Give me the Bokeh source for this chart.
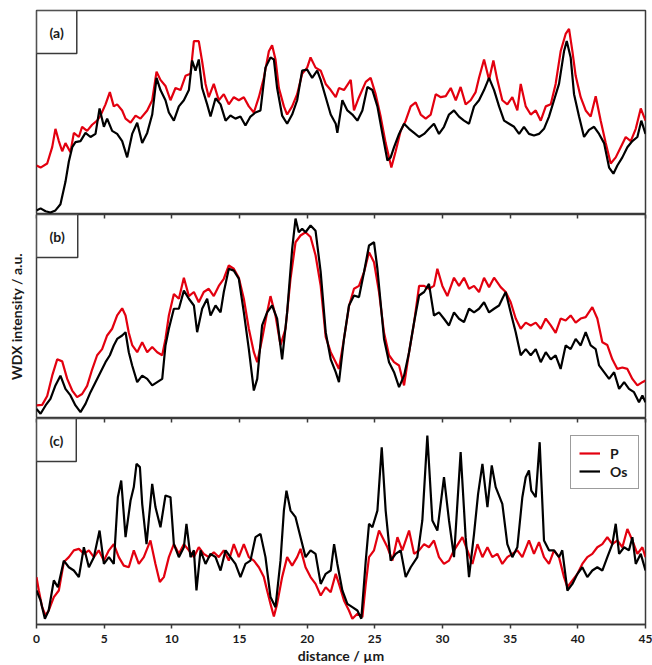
from bokeh.plotting import figure
from bokeh.layouts import column
from bokeh.models import Range1d, LinearAxis, FixedTicker, Label, Legend, LegendItem
from bokeh.embed import file_html
from bokeh.resources import INLINE

# ---------------- data ----------------
x_ticks = [0, 5, 10, 15, 20, 25, 30, 35, 40, 45]
panel_labels = ["(a)", "(b)", "(c)"]
series_names = ["P", "Os"]
x_label = "distance / µm"
y_label = "WDX intensity / a.u."

# panel (a): (distance µm, intensity a.u.)
a_p = [(0, 24), (0.3, 23), (0.79, 25), (1.16, 33), (1.4, 42), (1.65, 36), (1.9, 31), (2.14, 35), (2.51, 30.5), (2.76, 40),
       (3.13, 38), (3.37, 43), (3.74, 41), (4.11, 44), (4.48, 46), (4.73, 48.5), (5.1, 54), (5.42, 60), (5.71, 53), (5.96, 54),
       (6.33, 51), (6.58, 47), (6.95, 45), (7.32, 48.5), (7.68, 47), (8.18, 51), (8.55, 56), (8.87, 70), (9.16, 66), (9.53, 63),
       (9.9, 56), (10.27, 62), (10.64, 61), (11.01, 68), (11.38, 69), (11.63, 85), (11.99, 85), (12.24, 75), (12.49, 64), (12.73, 57.5),
       (13.1, 64), (13.47, 56), (13.84, 59), (14.21, 54), (14.58, 57.5), (14.95, 56), (15.32, 57.5), (15.69, 53), (16.06, 50), (16.43, 57.5),
       (16.8, 67), (17.17, 80), (17.41, 83), (17.66, 76), (17.91, 62), (18.28, 53), (18.52, 49), (18.89, 53), (19.26, 59), (19.63, 69),
       (20.0, 72), (20.25, 77), (20.62, 72), (21.0, 70.5), (21.37, 64), (21.74, 61), (22.11, 57.5), (22.35, 62), (22.72, 61), (23.22, 66),
       (23.46, 51), (23.83, 57.5), (24.33, 65), (24.69, 67), (25.06, 59), (25.43, 48), (25.8, 35), (26.05, 28), (26.22, 23), (26.54, 31),
       (26.91, 41), (27.28, 46), (27.65, 53), (28.02, 55), (28.39, 49), (28.76, 47), (29.13, 49), (29.5, 59), (29.87, 57.5), (30.24, 58),
       (30.61, 62), (30.98, 56), (31.34, 62.5), (31.71, 54), (32.08, 56), (32.45, 60), (32.7, 67), (33.07, 76), (33.44, 66), (33.76, 75.5),
       (34.05, 66), (34.42, 56), (34.79, 54), (35.16, 57.5), (35.53, 51), (35.78, 64), (36.15, 53), (36.52, 49), (36.89, 51), (37.26, 46),
       (37.63, 53), (38.0, 54), (38.36, 64), (38.73, 80), (39.1, 88.5), (39.35, 91), (39.6, 80), (39.84, 68), (40.21, 57.5), (40.58, 51),
       (40.95, 48), (41.32, 58), (41.69, 46), (42.06, 35), (42.43, 25), (42.8, 28), (43.17, 33), (43.54, 38), (43.91, 36), (44.28, 42),
       (44.65, 52), (45.0, 46)]
a_os = [(0, 2), (0.3, 3), (0.67, 1.6), (1.03, 1), (1.4, 2), (1.77, 5), (2.14, 16), (2.39, 26), (2.64, 33), (2.88, 35.5),
        (3.25, 36), (3.62, 40), (3.99, 38), (4.36, 39.5), (4.66, 52), (4.98, 43), (5.22, 47), (5.59, 41), (5.96, 39.5), (6.33, 36),
        (6.7, 28), (7.07, 39.5), (7.44, 45), (7.81, 35), (8.18, 40), (8.55, 49), (8.87, 67), (9.16, 61), (9.53, 56), (9.78, 50),
        (10.15, 46), (10.52, 53), (10.89, 56), (11.26, 61), (11.5, 75.5), (11.75, 70.5), (11.99, 76), (12.24, 62), (12.61, 54), (12.86, 48),
        (13.23, 57), (13.6, 54), (13.97, 46), (14.33, 48.5), (14.7, 47), (15.07, 48), (15.44, 43.6), (15.81, 48), (16.18, 50), (16.55, 51),
        (16.92, 72), (17.29, 77), (17.54, 76), (17.78, 62), (18.15, 48.5), (18.52, 44.5), (18.89, 49), (19.26, 56), (19.63, 70.5), (20.0, 71),
        (20.37, 67), (20.74, 70.5), (21.0, 66), (21.37, 57.5), (21.74, 49), (22.11, 44.5), (22.23, 40), (22.6, 56), (22.97, 51), (23.34, 49),
        (23.71, 46), (24.08, 51), (24.45, 62.5), (24.82, 61), (25.19, 53), (25.56, 39.5), (25.93, 26.5), (26.17, 28), (26.42, 33), (26.79, 39.5),
        (27.16, 44.5), (27.53, 42), (27.9, 40), (28.27, 38), (28.64, 39.5), (29.0, 42), (29.37, 44.5), (29.74, 39.5), (30.11, 43), (30.48, 49),
        (30.85, 51), (31.22, 48), (31.59, 46), (31.96, 44.5), (32.33, 53), (32.7, 56), (33.07, 61), (33.44, 67), (33.81, 61), (34.18, 53),
        (34.55, 46), (34.92, 44.5), (35.29, 43), (35.66, 39.5), (36.02, 43), (36.39, 39.5), (36.76, 38.7), (37.13, 39.5), (37.5, 42), (37.87, 48),
        (38.24, 56), (38.61, 64), (38.98, 80), (39.18, 85), (39.47, 77), (39.72, 59), (40.09, 48), (40.46, 38), (40.83, 41.5), (41.2, 43),
        (41.57, 39.5), (41.94, 35), (42.31, 23), (42.63, 20), (42.92, 24), (43.29, 28), (43.66, 33), (44.03, 36), (44.4, 38), (44.69, 46),
        (45.0, 39.5)]

# panel (b)
b_p = [(0, 6.4), (0.42, 6.7), (0.79, 11), (1.16, 21), (1.53, 29), (1.9, 28), (2.27, 19.4), (2.64, 13.7), (3.0, 10.5), (3.37, 12),
       (3.74, 16), (4.11, 24), (4.48, 31), (4.85, 34), (5.22, 40.7), (5.59, 44), (5.96, 50.5), (6.33, 54), (6.58, 50.5), (6.82, 42),
       (7.07, 36), (7.44, 32.5), (7.81, 37.4), (8.18, 32.5), (8.55, 35), (8.92, 32.5), (9.29, 31), (9.53, 39), (9.78, 50.5), (10.15, 61),
       (10.52, 58.7), (10.89, 69), (11.26, 60), (11.63, 62), (11.99, 57), (12.36, 62), (12.73, 63.6), (13.1, 60), (13.47, 65), (13.84, 68.5),
       (14.21, 75), (14.58, 73.4), (14.95, 69), (15.32, 58.7), (15.69, 44), (16.06, 32.5), (16.31, 27.6), (16.67, 39), (17.04, 52), (17.29, 60),
       (17.66, 50.5), (18.03, 36), (18.4, 44), (18.77, 68.5), (19.14, 86.4), (19.51, 89.7), (19.88, 91.3), (20.25, 89), (20.62, 80), (21.0, 65),
       (21.37, 40), (21.74, 32.5), (22.11, 27.6), (22.35, 24.3), (22.72, 39), (23.09, 55), (23.46, 63.6), (23.83, 65), (24.2, 71.7), (24.57, 81.5),
       (24.94, 76.6), (25.31, 62), (25.68, 42), (26.05, 31), (26.42, 27.6), (26.79, 26), (27.16, 16.2), (27.53, 32.5), (27.9, 47), (28.27, 65),
       (28.64, 65), (29.0, 63.6), (29.37, 65), (29.62, 73.4), (29.99, 65), (30.36, 60), (30.85, 69), (31.22, 65), (31.59, 69), (31.96, 63.6),
       (32.33, 65), (32.7, 62), (33.07, 69), (33.44, 64.4), (33.81, 69), (34.3, 64.4), (34.67, 62), (35.04, 57), (35.41, 49), (35.78, 44),
       (36.15, 47), (36.52, 45.6), (36.89, 47), (37.26, 44), (37.63, 49), (38.0, 45.6), (38.36, 42), (38.73, 49), (39.1, 48), (39.47, 50.5),
       (39.84, 47), (40.21, 49), (40.58, 49.7), (41.07, 54.6), (41.44, 49), (41.81, 37.4), (42.18, 36), (42.55, 29), (42.92, 24.3), (43.29, 25),
       (43.66, 24.3), (44.03, 19.4), (44.4, 16.2), (44.77, 17.8), (45.0, 18.6)]
b_os = [(0, 4.7), (0.3, 2.3), (0.67, 6.4), (1.03, 9.6), (1.4, 16.2), (1.77, 21), (2.14, 14.5), (2.51, 11.3), (2.88, 6.4), (3.25, 3.1),
        (3.62, 7.2), (3.99, 12.9), (4.36, 17.8), (4.73, 22.7), (5.1, 27.6), (5.42, 31), (5.71, 35.8), (5.96, 39), (6.33, 40.7), (6.58, 42.3),
        (6.82, 32.5), (7.07, 26), (7.44, 17.8), (7.81, 21), (8.18, 19.4), (8.55, 16.2), (8.92, 17.8), (9.29, 19.4), (9.53, 35.8), (9.78, 44),
        (10.15, 53.8), (10.52, 53.8), (10.89, 62.7), (11.26, 58.7), (11.63, 55.4), (11.87, 42.3), (12.24, 53.8), (12.61, 58.7), (12.86, 50.5), (13.23, 55.4),
        (13.6, 52), (13.84, 62), (14.21, 73.4), (14.58, 72.5), (14.95, 68.5), (15.32, 52), (15.69, 34), (16.06, 13.7), (16.31, 19.4), (16.67, 45.6),
        (17.04, 52), (17.41, 55.4), (17.78, 49), (18.15, 29), (18.52, 52), (18.89, 83), (19.14, 98), (19.38, 91.3), (19.63, 93), (19.88, 91.3),
        (20.25, 94.6), (20.62, 92), (21.0, 71.7), (21.37, 42.3), (21.74, 29), (22.11, 22.7), (22.35, 17.8), (22.72, 39), (23.09, 55.4), (23.46, 60.3),
        (23.83, 59.5), (24.2, 71.7), (24.57, 84.8), (24.94, 86.4), (25.19, 73.4), (25.68, 39), (26.05, 27.6), (26.42, 22.7), (26.79, 15.4), (27.16, 21),
        (27.53, 32.5), (27.9, 47.2), (28.27, 60.3), (28.64, 62), (29.0, 66), (29.37, 50.5), (29.74, 52), (30.11, 48.9), (30.48, 45.6), (30.85, 52),
        (31.22, 48.9), (31.59, 47.2), (31.96, 53.8), (32.33, 52), (32.7, 53.8), (33.07, 57), (33.44, 52), (33.81, 53.8), (34.18, 55.4), (34.42, 58.7),
        (34.67, 62), (35.04, 52), (35.41, 42.3), (35.78, 31), (36.15, 34), (36.52, 31), (36.89, 34), (37.26, 27.6), (37.63, 32.5), (38.0, 29),
        (38.36, 31), (38.73, 24.3), (39.1, 35.8), (39.47, 34), (39.84, 39), (40.21, 35.8), (40.58, 42.3), (40.95, 35.8), (41.32, 34), (41.57, 26),
        (41.94, 22.7), (42.31, 19.4), (42.68, 22.7), (43.05, 14.5), (43.42, 17.8), (43.78, 14.5), (44.15, 12.9), (44.52, 8), (44.77, 11.3), (45.0, 8)]

# panel (c)
c_p = [(0, 23), (0.17, 16.5), (0.42, 8.4), (0.67, 4.4), (0.9, 6.8), (1.28, 13.3), (1.65, 16.5), (2.02, 30.3), (2.39, 32.7), (2.76, 36),
       (3.13, 36.7), (3.5, 34.3), (3.87, 36), (4.24, 32.7), (4.6, 36), (4.98, 31), (5.35, 36), (5.71, 39), (6.08, 32.7), (6.45, 28.6),
       (6.82, 27.8), (7.19, 36), (7.56, 29.4), (7.93, 32.7), (8.42, 40.8), (8.79, 29.4), (9.11, 20.6), (9.41, 23), (9.78, 32.7), (10.15, 39),
       (10.52, 34.3), (10.89, 39), (11.26, 36), (11.63, 32.7), (11.99, 37.5), (12.36, 34.3), (12.73, 32.7), (13.1, 35.1), (13.47, 32.7), (13.84, 36),
       (14.21, 31), (14.58, 39), (14.95, 32.7), (15.32, 39), (15.69, 32.7), (16.06, 31), (16.43, 27.8), (16.8, 23), (17.04, 16.5), (17.29, 10),
       (17.54, 3.9), (17.78, 10), (18.15, 23), (18.52, 32.7), (18.89, 28.6), (19.26, 32.7), (19.51, 36.7), (19.88, 27.8), (20.25, 23), (20.62, 19.7),
       (21.0, 14.1), (21.37, 18.1), (21.74, 15.7), (22.11, 24.6), (22.35, 19.7), (22.72, 11.7), (23.09, 6.8), (23.34, 2.8), (23.71, 5.2), (24.08, 3.6),
       (24.33, 19.7), (24.57, 32.7), (24.94, 36), (25.31, 45.6), (25.56, 42.4), (25.93, 37.5), (26.3, 31), (26.67, 42.4), (27.03, 36), (27.53, 45.6),
       (27.9, 34.3), (28.27, 36), (28.64, 39), (29.0, 37.5), (29.37, 40.8), (29.74, 32.7), (30.11, 29.4), (30.48, 31), (30.85, 36), (31.47, 42.4),
       (31.84, 36), (32.21, 29.4), (32.58, 39), (32.95, 32.7), (33.32, 37.5), (33.68, 32.7), (34.05, 34.3), (34.42, 29.4), (34.79, 32.7), (35.16, 34.3),
       (35.53, 36), (35.9, 32.7), (36.39, 40.8), (36.76, 34.3), (37.13, 40), (37.5, 32.7), (37.87, 29.4), (38.24, 36), (38.61, 32.7), (38.98, 23),
       (39.23, 18.1), (39.6, 21.4), (39.97, 24.6), (40.33, 29.4), (40.7, 32.7), (41.07, 34.3), (41.44, 37.5), (41.81, 39), (42.18, 42.4), (42.55, 39),
       (42.92, 40.8), (43.29, 37.5), (43.66, 46.4), (44.03, 40.8), (44.4, 34.3), (44.77, 37.5), (45.0, 32.7)]
c_os = [(0, 16.5), (0.3, 11.7), (0.62, 2.8), (0.9, 6.8), (1.28, 21.4), (1.58, 18.1), (2.02, 31), (2.39, 27.8), (2.76, 26.2), (3.13, 23),
        (3.5, 37.5), (3.87, 27.8), (4.24, 32.7), (4.66, 45.6), (4.98, 29.4), (5.35, 32.7), (5.71, 29.4), (6.01, 61.8), (6.26, 69.9), (6.58, 42.4),
        (6.95, 60.2), (7.19, 66.7), (7.39, 78), (7.64, 76.4), (7.81, 58.6), (8.13, 39), (8.55, 68.3), (8.79, 57), (9.16, 47.2), (9.53, 62.6),
        (9.9, 61.8), (10.15, 39), (10.52, 32.7), (10.89, 37.5), (11.08, 48.9), (11.38, 32.7), (11.63, 36), (11.82, 16.5), (12.12, 36), (12.49, 29.4),
        (12.86, 34.3), (13.23, 32.7), (13.6, 26.2), (13.97, 36), (14.33, 32.7), (14.7, 29.4), (15.07, 23), (15.44, 29.4), (15.81, 31), (16.18, 42.4),
        (16.55, 44), (16.92, 32.7), (17.29, 13.3), (17.66, 8.4), (18.03, 31), (18.28, 55.3), (18.47, 65), (18.77, 55.3), (19.14, 52.1), (19.51, 42.4),
        (19.88, 32.7), (20.25, 36), (20.62, 34.3), (21.0, 19.7), (21.37, 24.6), (21.74, 26.2), (21.99, 39), (22.23, 29.4), (22.6, 16.5), (22.97, 10),
        (23.34, 8.4), (23.71, 6.8), (24.0, 2.8), (24.33, 31), (24.57, 48.9), (24.82, 47.2), (25.19, 55.3), (25.51, 86), (25.8, 55.3), (26.17, 31),
        (26.54, 34.3), (26.91, 36), (27.28, 23), (27.65, 27.8), (28.14, 32.7), (28.51, 50.5), (28.88, 91.7), (29.25, 50.5), (29.62, 45.6), (30.11, 71.5),
        (30.48, 50.5), (30.85, 32.7), (31.34, 83.7), (31.71, 42.4), (31.96, 23), (32.33, 44), (32.63, 63.4), (32.95, 78), (33.32, 57), (33.64, 77.2),
        (33.93, 66.7), (34.42, 58.6), (34.79, 39), (35.16, 32.7), (35.53, 37.5), (35.9, 61.8), (36.15, 71.5), (36.39, 74.8), (36.56, 65), (36.89, 61.8),
        (37.18, 88.5), (37.5, 40.8), (37.87, 36), (38.24, 36), (38.61, 32.7), (38.85, 36), (39.23, 16.5), (39.6, 19.7), (39.97, 24.6), (40.33, 27.8),
        (40.7, 23), (41.07, 26.2), (41.44, 27.8), (41.81, 26.2), (42.18, 32.7), (42.55, 39), (42.8, 48.9), (43.05, 34.3), (43.42, 37.5), (43.78, 36),
        (44.03, 42.4), (44.28, 29.4), (44.65, 34.3), (45.0, 26.2)]

panels = [(a_p, a_os), (b_p, b_os), (c_p, c_os)]

# ---------------- styling ----------------
RED = "#e3000f"
BLACK = "#000000"
FRAME = "#3a3a3a"
TEXT = "#1a1a1a"
FONT = "Lato"

xr = Range1d(0, 45)
frame_heights = [204, 204, 206]
figs = []
for i, ((pp, oo), lab) in enumerate(zip(panels, panel_labels)):
    p = figure(frame_width=609, frame_height=frame_heights[i], x_range=xr, y_range=Range1d(0, 100),
               output_backend="svg", toolbar_location=None, tools="",
               x_axis_location=None, y_axis_location=None,
               min_border_left=36, min_border_right=7,
               min_border_top=10 if i == 0 else 0, min_border_bottom=0)
    p.grid.visible = False
    p.outline_line_color = FRAME
    p.outline_line_width = 1.5
    p.border_fill_color = "white"

    if i > 0:
        top_ax = LinearAxis(ticker=FixedTicker(ticks=x_ticks), major_tick_in=4, major_tick_out=0,
                            minor_tick_in=0, minor_tick_out=0,
                            major_label_overrides={t: "" for t in x_ticks},
                            major_label_standoff=0, axis_line_color=None,
                            major_tick_line_color=FRAME, major_tick_line_width=1.5)
        p.add_layout(top_ax, "above")
    if i == 1:
        yax = LinearAxis(axis_label=y_label, ticker=FixedTicker(ticks=[]),
                         major_tick_in=0, major_tick_out=0, minor_tick_in=0, minor_tick_out=0,
                         axis_line_color=None, major_label_standoff=0, axis_label_standoff=12,
                         axis_label_text_font=FONT, axis_label_text_font_style="bold",
                         axis_label_text_font_size="14px", axis_label_text_color=TEXT)
        p.add_layout(yax, "left")
    if i == 2:
        bax = LinearAxis(ticker=FixedTicker(ticks=x_ticks), axis_label=x_label,
                         major_tick_in=0, major_tick_out=4, minor_tick_in=0, minor_tick_out=0,
                         major_tick_line_color=FRAME, major_tick_line_width=1.5,
                         axis_line_color=FRAME, axis_line_width=1.5,
                         major_label_standoff=6, axis_label_standoff=1,
                         major_label_text_font=FONT, major_label_text_font_style="bold",
                         major_label_text_font_size="12px", major_label_text_color=TEXT,
                         axis_label_text_font=FONT, axis_label_text_font_style="bold",
                         axis_label_text_font_size="14px", axis_label_text_color=TEXT)
        p.add_layout(bax, "below")

    px, py = zip(*pp)
    ox, oy = zip(*oo)
    r_p = p.line(list(px), list(py), line_color=RED, line_width=2.2)
    r_o = p.line(list(ox), list(oy), line_color=BLACK, line_width=2.2)

    p.add_layout(Label(x=0, y=100, text=lab, anchor="top_left", padding=13,
                       text_font=FONT, text_font_style="bold", text_font_size="14px", text_color=TEXT,
                       border_line_color=FRAME, border_line_width=1.5,
                       background_fill_color="white"))

    if i == 2:
        legend = Legend(items=[LegendItem(label=series_names[0], renderers=[r_p]),
                               LegendItem(label=series_names[1], renderers=[r_o])],
                        location=(534, 135), padding=8, spacing=0, margin=0,
                        glyph_width=21, glyph_height=18, label_height=18, label_standoff=10,
                        label_text_font=FONT, label_text_font_style="bold", label_text_font_size="14px",
                        label_text_color=TEXT, border_line_color=FRAME, border_line_width=1.2,
                        background_fill_alpha=1.0)
        p.add_layout(legend)
    figs.append(p)

layout = column(*figs, spacing=0)
open("out.html", "w").write(file_html(layout, INLINE))
